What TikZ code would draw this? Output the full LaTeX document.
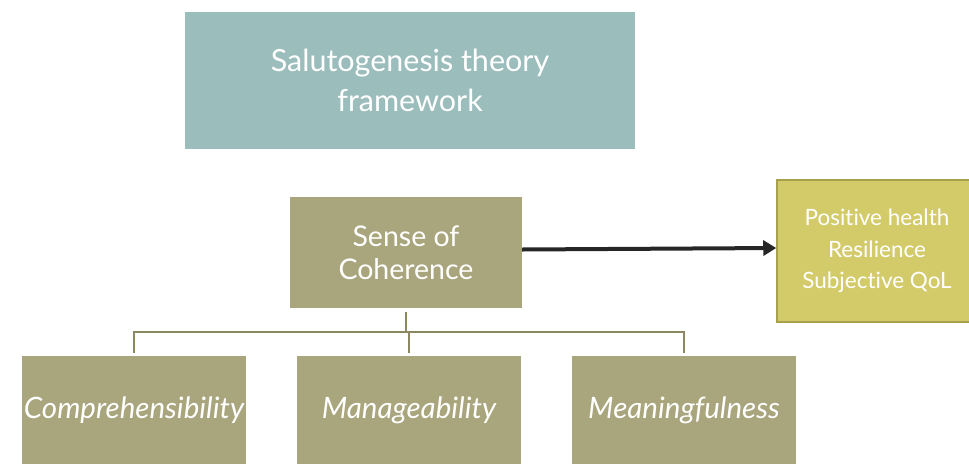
\documentclass[tikz,border=0pt]{standalone}
\usepackage{fontspec}
\setmainfont{Lato}[Ligatures=NoCommon]
\usetikzlibrary{positioning,arrows.meta}
\definecolor{titlecol}{HTML}{9BBDBB}
\definecolor{soccol}{HTML}{A9A57C}
\definecolor{outcol}{HTML}{D3CB6A}
\definecolor{outline}{HTML}{A8A04A}
\definecolor{treecol}{HTML}{8C8862}
\begin{document}
\begin{tikzpicture}[x=1pt,y=-1pt,
  box/.style={fill=soccol,text=white,align=center,inner sep=0pt},
  tree/.style={draw=treecol,line width=1.5pt}]
\useasboundingbox (0,0) rectangle (969,464);
\node[box,fill=titlecol,minimum width=450pt,minimum height=137pt,font=\fontsize{30.5}{40}\selectfont] (title) at (410,80.5) {Salutogenesis theory\\framework};
\node[box,minimum width=232pt,minimum height=111pt,font=\fontsize{28.5}{33}\selectfont] (soc) at (406,252.5) {Sense of\\Coherence};
\node[box,fill=outcol,draw=outline,line width=1.5pt,minimum width=200pt,minimum height=142pt,font=\fontsize{22.5}{31.5}\selectfont] (out) at (877,251) {Positive health\\Resilience\\Subjective QoL};
\foreach \x/\n/\t in {134/comp/Comprehensibility,409/man/Manageability,684/mean/Meaningfulness} % edit here for the boxes
\node[box,minimum width=224pt,minimum height=108pt,font=\fontsize{29.5}{30}\selectfont\itshape] (\n) at (\x,410) {\t};
\coordinate (split) at (406,332);
\draw[tree,shorten <=4pt] (soc.south) -- (split);
\draw[tree,shorten <=3pt,shorten >=3pt] (comp.north) |- (split) -| (mean.north);
\draw[tree,shorten >=3pt] (split -| man.north) -- (man.north);
\draw[-{Triangle[length=13pt,width=15pt]},line width=4pt,color=black!85] ([yshift=3pt]soc.east) -- ([yshift=3pt]out.west);
\end{tikzpicture}
\end{document}
